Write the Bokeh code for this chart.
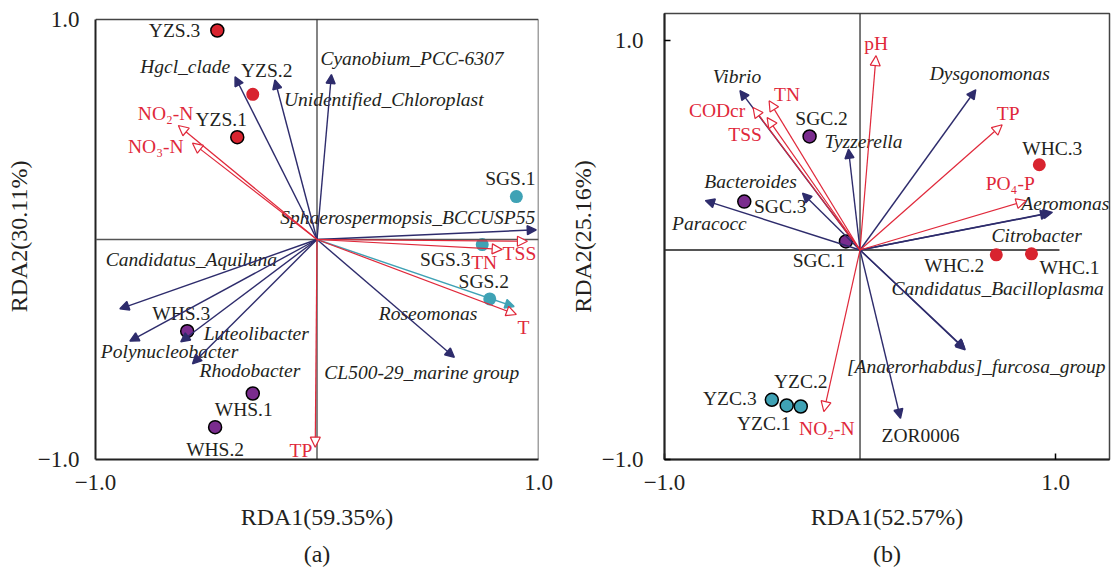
from bokeh.plotting import figure
from bokeh.models import ColumnDataSource, Arrow, NormalHead, Span, Title, FixedTicker, Range1d
from bokeh.layouts import row
from bokeh.embed import file_html
from bokeh.resources import INLINE
from bokeh.core.properties import value

# ---------------- data : panel (a) ----------------
a_samples = ["YZS.3", "YZS.2", "YZS.1", "SGS.1", "SGS.3", "SGS.2", "WHS.3", "WHS.1", "WHS.2"]
a_sample_x = [-0.45, -0.29, -0.36, 0.90, 0.746, 0.78, -0.586, -0.29, -0.46]
a_sample_y = [0.95, 0.66, 0.465, 0.195, -0.023, -0.27, -0.417, -0.70, -0.853]
a_sample_group = ["YZS", "YZS", "YZS", "SGS", "SGS", "SGS", "WHS", "WHS", "WHS"]

a_species = ["Hgcl_clade", "Unidentified_Chloroplast", "Cyanobium_PCC-6307",
             "Sphaerospermopsis_BCCUSP55", "Candidatus_Aquiluna", "Polynucleobacter",
             "Luteolibacter", "Rhodobacter", "CL500-29_marine group", "Roseomonas"]
a_species_x = [-0.37, -0.19, 0.065, 0.99, -0.89, -0.845, -0.615, -0.562, 0.62, 0.89]
a_species_y = [0.74, 0.725, 0.75, 0.044, -0.315, -0.462, -0.465, -0.565, -0.535, -0.305]

a_env = ["NO\u2082-N", "NO\u2083-N", "TSS", "TN", "T", "TP"]
a_env_x = [-0.626, -0.562, 0.95, 0.836, 0.90, -0.008]
a_env_y = [0.518, 0.438, -0.008, -0.045, -0.341, -0.944]

# ---------------- data : panel (b) ----------------
b_samples = ["SGC.2", "SGC.3", "SGC.1", "WHC.3", "WHC.2", "WHC.1", "YZC.3", "YZC.1", "YZC.2"]
b_sample_x = [-0.258, -0.592, -0.072, 0.917, 0.697, 0.877, -0.451, -0.375, -0.303]
b_sample_y = [0.542, 0.231, 0.041, 0.407, -0.023, -0.018, -0.715, -0.742, -0.747]
b_sample_group = ["SGC", "SGC", "SGC", "WHC", "WHC", "WHC", "YZC", "YZC", "YZC"]

b_species = ["Vibrio", "Dysgonomonas", "Tyzzerella", "Bacteroides", "Paracocc", "Aeromonas",
             "Citrobacter", "Candidatus_Bacilloplasma", "[Anaerorhabdus]_furcosa_group", "ZOR0006"]
b_species_x = [-0.614, 0.592, -0.059, -0.294, -0.791, 0.984, 0.97, 0.535, 0.538, 0.207]
b_species_y = [0.761, 0.765, 0.481, 0.271, 0.236, 0.18, 0.176, -0.47, -0.476, -0.803]

b_env = ["pH", "TN", "CODcr", "TSS", "TP", "PO\u2084-P", "NO\u2082-N"]
b_env_x = [0.082, -0.465, -0.547, -0.475, 0.727, 0.85, -0.185]
b_env_y = [0.928, 0.712, 0.68, 0.632, 0.598, 0.235, -0.771]

tick_vals = [-1.0, 1.0]
tick_labels = ["\u22121.0", "1.0"]

# ---------------- styling / label layout (pixels) ----------------
FONT = "Liberation Serif"
NAVY = "#2E2C6C"
RED = "#E0283A"
TEAL = "#3FA2B5"
PURPLE = "#7A2C8E"
PT_RED = "#D8242F"
TXT = "#231F20"
group_color = {"YZS": PT_RED, "SGS": TEAL, "WHS": PURPLE, "SGC": PURPLE, "WHC": PT_RED, "YZC": TEAL}

a_sample_outline = ["black", None, "black", None, None, None, "black", "black", "black"]
a_sample_lab = [("right", -17, 0), ("center", 14, -24), ("center", -16, -18), ("center", -6, -18),
                ("center", -37, 15), ("center", -6, -17), ("center", -6, -18), ("center", -9, 16),
                ("center", 0, 22)]
a_species_col = [NAVY] * 9 + [TEAL]
a_species_lab = [("right", -5, -10), ("left", 9, 19), ("left", -11, -16), ("right", -1, -12),
                 ("left", -14, -49), ("left", -29, 10), ("left", 23, -8), ("left", 7, 7),
                 ("left", -130, 15), ("center", -86, 7)]
a_env_lab = [("right", 15, -12), ("right", -9, 3), ("center", -8, 12), ("center", -18, 13),
             ("center", 7, 13), ("right", -3, 3)]

b_sample_outline = ["black"] * 3 + [None] * 3 + ["black"] * 3
b_sample_lab = [("center", 12, -18), ("center", 36, 5), ("center", -27, 19), ("center", 13, -16),
                ("center", -42, 11), ("center", 38, 14), ("center", -42, -1), ("center", -23, 18),
                ("center", 0, -25)]
b_species_col = [NAVY] * 10
b_species_style = ["italic"] * 9 + ["normal"]
b_species_lab = [("center", -3, -14), ("center", 14, -16), ("center", 15, -8), ("center", -52, -12),
                 ("center", 4, 23), ("center", 13, -9), ("center", -13, 22), ("center", 33, -60),
                 ("center", 11, 17), ("center", 20, 17)]
b_env_lab = [("center", 0, -12), ("center", 18, -6), ("center", -36, 3), ("center", -22, 17),
             ("center", 6, -11), ("center", -16, -17), ("center", 3, 17)]


def add_labels(p, xs, ys, texts, lab, color, style="normal"):
    styles = style if isinstance(style, list) else [style] * len(texts)
    src = ColumnDataSource(dict(x=xs, y=ys, t=texts, al=[l[0] for l in lab],
                                dx=[l[1] for l in lab], dy=[l[2] for l in lab], st=styles))
    p.text(x="x", y="y", text="t", source=src, text_align="al", text_baseline="middle",
           x_offset="dx", y_offset="dy", text_font=value(FONT), text_font_size="19.5px",
           text_color=color, text_font_style="st")


def add_arrows(p, xs, ys, colors, head_fill, lw, size):
    for c in sorted(set(colors)):
        idx = [i for i, cc in enumerate(colors) if cc == c]
        src = ColumnDataSource(dict(x0=[0.0] * len(idx), y0=[0.0] * len(idx),
                                    x1=[xs[i] for i in idx], y1=[ys[i] for i in idx]))
        head = NormalHead(size=size, line_color=c, line_width=lw,
                          fill_color=(c if head_fill else "white"))
        p.add_layout(Arrow(end=head, source=src, x_start="x0", y_start="y0", x_end="x1", y_end="y1",
                           line_color=c, line_width=lw))


def make_panel(width, xr, yr, borders, xlab, ylab, cap, tick_in, ylab_standoff):
    p = figure(width=width, height=575, x_range=Range1d(*xr), y_range=Range1d(*yr),
               output_backend="svg", toolbar_location=None,
               min_border_left=borders[0], min_border_right=borders[1],
               min_border_top=borders[2], min_border_bottom=borders[3])
    p.grid.visible = False
    p.background_fill_color = "white"
    p.outline_line_color = "#444444"
    p.outline_line_width = 1.5
    for ax in (p.xaxis[0], p.yaxis[0]):
        ax.ticker = FixedTicker(ticks=tick_vals)
        ax.major_label_overrides = {v: s for v, s in zip(tick_vals, tick_labels)}
        ax.major_label_text_font = FONT
        ax.major_label_text_font_size = "23px"
        ax.major_label_text_color = TXT
        ax.axis_label_text_font = FONT
        ax.axis_label_text_font_size = "24px"
        ax.axis_label_text_font_style = "normal"
        ax.axis_label_text_color = TXT
        ax.axis_line_width = 2
        ax.axis_line_color = "#222222"
        ax.minor_tick_line_color = None
        ax.major_tick_in = tick_in
        ax.major_tick_out = 0
        ax.major_tick_line_width = 1.5
    p.xaxis.axis_label = xlab
    p.yaxis.axis_label = ylab
    p.yaxis.major_label_standoff = ylab_standoff
    p.yaxis.axis_label_standoff = 3
    p.xaxis.major_label_standoff = 15
    p.xaxis.axis_label_standoff = 11
    p.add_layout(Title(text=cap, align="center", text_font=FONT, text_font_size="24px",
                       text_font_style="normal", text_color=TXT, standoff=13), "below")
    return p


# ---------------- panel (a) ----------------
# frame top shared with panel (b); the drawn box of (a) stops at y = 1
a_ytop = 1.0 + 6.0 / 220.0
pa = make_panel(560, (-1, 1), (-1, a_ytop), (95, 22, 13, 116), "RDA1(59.35%)", "RDA2(30.11%)", "(a)", 0, 16)
pa.outline_line_color = None
pa.yaxis.bounds = (-1, 1)
pa.segment(x0=[-1.0, 1.0], y0=[1.0, -1.0], x1=[1.0, 1.0], y1=[1.0, 1.0], line_color="#444444", line_width=1.5)
pa.segment(x0=[0.0], y0=[-1.0], x1=[0.0], y1=[1.0], line_color="#333333", line_width=1.2)
pa.add_layout(Span(location=0, dimension="width", line_color="#555555", line_width=1.6))
add_arrows(pa, a_species_x, a_species_y, a_species_col, True, 1.4, 9)
add_arrows(pa, a_env_x, a_env_y, [RED] * len(a_env), False, 1.2, 10)
pa.scatter(a_sample_x, a_sample_y, size=13, fill_color=[group_color[g] for g in a_sample_group],
           line_color=a_sample_outline, line_width=1.5)
add_labels(pa, a_sample_x, a_sample_y, a_samples, a_sample_lab, TXT)
add_labels(pa, a_species_x, a_species_y, a_species, a_species_lab, TXT, "italic")
add_labels(pa, a_env_x, a_env_y, a_env, a_env_lab, RED)

# ---------------- panel (b) ----------------
pb = make_panel(555, (-1, 1.276), (-1, 1.129), (104, 6, 13, 116), "RDA1(52.57%)", "RDA2(25.16%)", "(b)", 6, 21)
pb.add_layout(Span(location=0, dimension="height", line_color="#222222", line_width=1.2))
pb.segment(x0=[-1.0], y0=[0.0], x1=[1.02], y1=[0.0], line_color="#555555", line_width=1.8)
add_arrows(pb, b_species_x, b_species_y, b_species_col, True, 1.4, 9)
add_arrows(pb, b_env_x, b_env_y, [RED] * len(b_env), False, 1.2, 10)
pb.scatter(b_sample_x, b_sample_y, size=13, fill_color=[group_color[g] for g in b_sample_group],
           line_color=b_sample_outline, line_width=1.5)
add_labels(pb, b_sample_x, b_sample_y, b_samples, b_sample_lab, TXT)
add_labels(pb, b_species_x, b_species_y, b_species, b_species_lab, TXT, b_species_style)
add_labels(pb, b_env_x, b_env_y, b_env, b_env_lab, RED)

layout = row(pa, pb)
open("out.html", "w").write(file_html(layout, INLINE))
